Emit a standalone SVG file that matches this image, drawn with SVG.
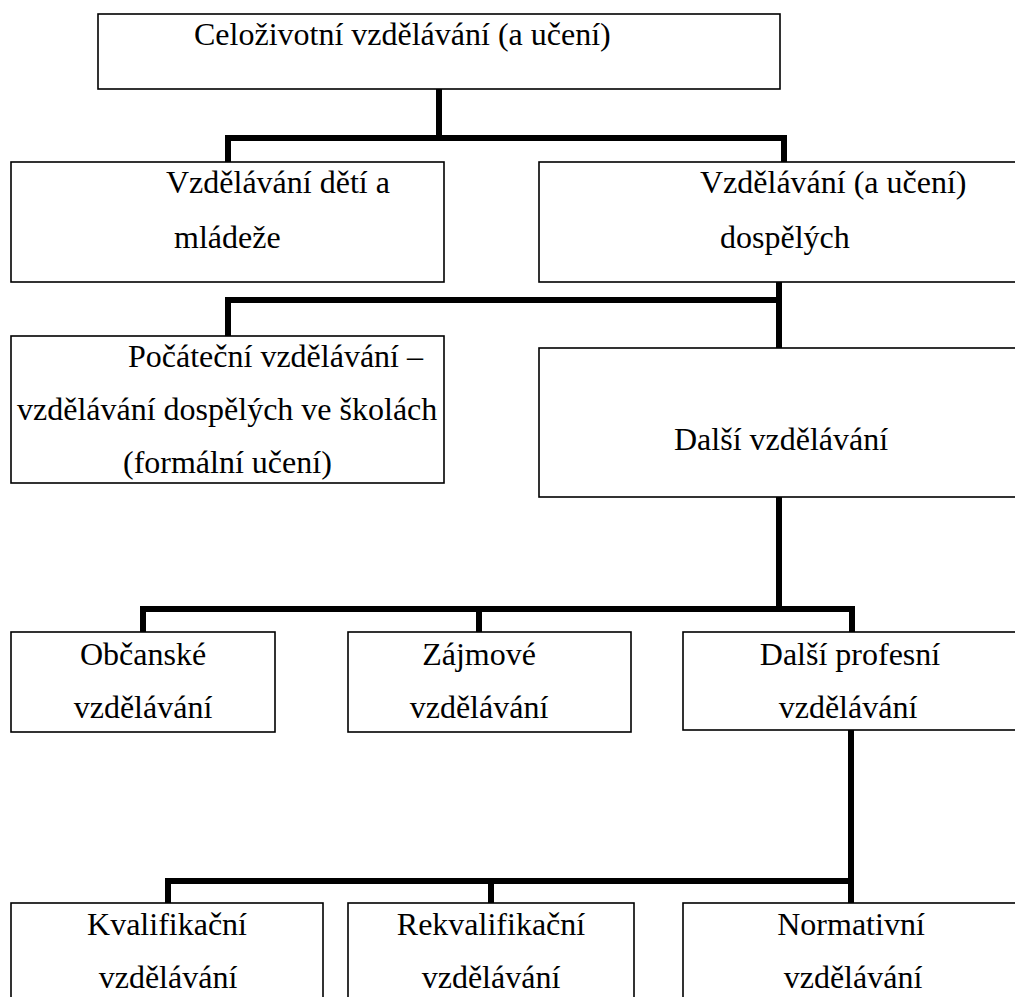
<svg xmlns="http://www.w3.org/2000/svg" width="1015" height="997" viewBox="0 0 1015 997">
<style>
.box{fill:#fff;stroke:#000;stroke-width:1.6}
.t{font-family:"Liberation Serif","Times New Roman",serif;font-size:32px;fill:#000}
.c{fill:none;stroke:#000;stroke-width:6;stroke-linecap:butt;stroke-linejoin:miter}
</style>
<rect width="1015" height="997" fill="#fff"/>
<g id="connectors">
<path class="c" d="M439,89 V138 M228,162 V138 H784 V162"/>
<path class="c" d="M779,279 V348 M228,336 V300 H779"/>
<path class="c" d="M779,497 V609 M143,632 V609 H852 V632 M479,609 V632"/>
<path class="c" d="M851,730 V881 M168,903 V881 H851 V903 M491,881 V903"/>
</g>
<g id="n-celozivotni">
<rect class="box" x="98" y="14" width="682" height="75"/>
<text class="t" x="194" y="45">Celoživotní vzdělávání (a učení)</text>
</g>
<g id="n-deti">
<rect class="box" x="11" y="162" width="433" height="120"/>
<text class="t" x="166" y="193">Vzdělávání dětí a</text>
<text class="t" x="174" y="248">mládeže</text>
</g>
<g id="n-dospelych">
<rect class="box" x="539" y="162" width="490" height="120"/>
<text class="t" x="700" y="193">Vzdělávání (a učení)</text>
<text class="t" x="720" y="248">dospělých</text>
</g>
<g id="n-pocatecni">
<rect class="box" x="11" y="336" width="433" height="147"/>
<text class="t" x="128" y="367">Počáteční vzdělávání –</text>
<text class="t" x="17" y="420">vzdělávání dospělých ve školách</text>
<text class="t" x="123" y="473">(formální učení)</text>
</g>
<g id="n-dalsi">
<rect class="box" x="539" y="348" width="490" height="149"/>
<text class="t" x="674" y="450">Další vzdělávání</text>
</g>
<g id="n-obcanske">
<rect class="box" x="11" y="632" width="264" height="100"/>
<text class="t" x="143" y="665" text-anchor="middle">Občanské</text>
<text class="t" x="143" y="718" text-anchor="middle">vzdělávání</text>
</g>
<g id="n-zajmove">
<rect class="box" x="348" y="632" width="283" height="100"/>
<text class="t" x="479" y="665" text-anchor="middle">Zájmové</text>
<text class="t" x="479" y="718" text-anchor="middle">vzdělávání</text>
</g>
<g id="n-profesni">
<rect class="box" x="683" y="632" width="346" height="98"/>
<text class="t" x="850" y="665" text-anchor="middle">Další profesní</text>
<text class="t" x="848" y="718" text-anchor="middle">vzdělávání</text>
</g>
<g id="n-kvalifikacni">
<rect class="box" x="11" y="903" width="312" height="110"/>
<text class="t" x="167" y="935" text-anchor="middle">Kvalifikační</text>
<text class="t" x="168" y="988" text-anchor="middle">vzdělávání</text>
</g>
<g id="n-rekvalifikacni">
<rect class="box" x="348" y="903" width="286" height="110"/>
<text class="t" x="491" y="935" text-anchor="middle">Rekvalifikační</text>
<text class="t" x="491" y="988" text-anchor="middle">vzdělávání</text>
</g>
<g id="n-normativni">
<rect class="box" x="683" y="903" width="346" height="110"/>
<text class="t" x="851" y="935" text-anchor="middle">Normativní</text>
<text class="t" x="853" y="988" text-anchor="middle">vzdělávání</text>
</g>
</svg>
